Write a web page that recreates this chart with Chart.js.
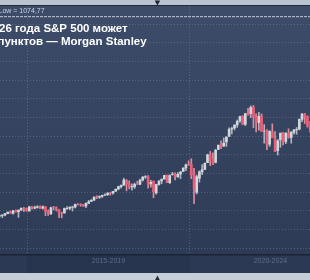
<!DOCTYPE html>
<html>
<head>
<meta charset="utf-8">
<script src="https://cdn.jsdelivr.net/npm/chart.js@4.4.1/dist/chart.umd.min.js"></script>
<style>
  html, body { margin: 0; padding: 0; background: #c5cdd8; overflow: hidden; }
  canvas { display: block; }
</style>
</head>
<body>
<canvas id="myChart" width="310" height="280"></canvas>
<script>
// S&P 500, monthly candles from Jan 2014
const firstYear = 2014;
const opens = [
  1845.9, 1782.7, 1857.7, 1873.9, 1884.4, 1923.9, 1962.3, 1929.8, 2004.1, 1971.4, 2018.2, 2065.8,
  2058.9, 1996.7, 2105.2, 2067.6, 2087.4, 2108.6, 2067.0, 2104.5, 1970.1, 1919.7, 2080.8, 2082.9,
  2038.2, 1936.9, 1937.1, 2056.6, 2067.2, 2093.9, 2099.3, 2173.2, 2171.3, 2164.3, 2128.7, 2200.2,
  2251.6, 2285.6, 2380.1, 2362.3, 2388.5, 2415.6, 2431.4, 2477.1, 2474.4, 2521.2, 2583.2, 2645.1,
  2683.7, 2816.5, 2715.2, 2633.4, 2643.0, 2718.7, 2705.0, 2821.2, 2901.6, 2926.3, 2717.6, 2790.5,
  2477.0, 2702.3, 2798.2, 2848.6, 2952.3, 2751.5, 2971.4, 2980.3, 2909.0, 2983.7, 3050.7, 3143.9,
  3244.7, 3235.7, 2974.3, 2498.1, 2869.1, 3038.8, 3105.9, 3288.3, 3507.4, 3385.9, 3296.2, 3645.9,
  3764.6, 3731.2, 3842.5, 3992.8, 4192.0, 4216.5, 4300.7, 4406.9, 4528.8, 4317.2, 4610.6, 4602.8,
  4778.1, 4519.6, 4363.1, 4540.3, 4130.6, 4149.8, 3781.0, 4112.4, 3936.7, 3609.8, 3901.8, 4087.1,
  3853.3, 4070.1, 3963.3, 4102.2, 4166.8, 4184.0, 4450.5, 4578.8, 4530.6, 4284.5
];
const highs = [
  1850.8, 1867.9, 1884.0, 1897.3, 1924.0, 1968.2, 1991.4, 2005.0, 2019.3, 2018.2, 2075.8, 2093.6,
  2072.4, 2119.6, 2117.5, 2125.9, 2134.7, 2129.9, 2132.8, 2112.7, 2021.0, 2094.3, 2116.5, 2104.3,
  2038.2, 1963.0, 2072.2, 2111.1, 2103.5, 2120.6, 2177.1, 2193.8, 2187.9, 2169.6, 2214.1, 2277.5,
  2301.0, 2371.5, 2401.0, 2398.2, 2418.7, 2453.8, 2484.0, 2490.9, 2519.4, 2583.0, 2657.7, 2695.0,
  2872.9, 2836.0, 2801.9, 2717.5, 2742.2, 2791.5, 2848.0, 2916.5, 2940.9, 2939.9, 2815.2, 2800.2,
  2709.0, 2813.5, 2860.3, 2949.5, 2954.1, 2964.2, 3028.0, 3013.6, 3022.0, 3050.1, 3154.3, 3247.9,
  3337.8, 3393.5, 3136.7, 2954.9, 3068.7, 3233.1, 3280.0, 3514.8, 3588.1, 3549.9, 3646.0, 3760.2,
  3870.9, 3950.4, 3983.9, 4218.8, 4238.0, 4302.4, 4430.0, 4537.4, 4545.9, 4608.1, 4743.8, 4808.9,
  4818.6, 4595.3, 4637.3, 4593.5, 4307.7, 4177.5, 4140.1, 4325.3, 4119.3, 3905.4, 4080.1, 4101.0,
  4094.2, 4195.4, 4110.8, 4170.1, 4231.1, 4458.5, 4607.1, 4607.1, 4541.3, 4393.6
];
const lows = [
  1737.9, 1737.9, 1834.4, 1814.4, 1859.8, 1916.0, 1930.7, 1904.8, 1964.0, 1820.7, 2001.0, 1972.6,
  1988.1, 1980.9, 2039.7, 2048.4, 2067.9, 2056.3, 2044.0, 1867.0, 1871.9, 1893.7, 2019.4, 1993.3,
  1812.3, 1810.1, 1937.1, 2033.8, 2025.9, 1991.7, 2074.0, 2147.6, 2119.1, 2114.7, 2083.8, 2187.4,
  2245.1, 2271.7, 2322.3, 2329.0, 2352.7, 2405.7, 2407.7, 2417.4, 2446.6, 2520.4, 2557.5, 2605.5,
  2682.4, 2532.7, 2585.9, 2553.8, 2594.6, 2698.7, 2699.0, 2796.3, 2864.1, 2603.5, 2631.1, 2346.6,
  2444.0, 2681.8, 2722.3, 2848.6, 2750.5, 2728.8, 2952.2, 2822.1, 2891.9, 2856.0, 3050.7, 3070.3,
  3214.6, 2855.8, 2191.9, 2447.5, 2766.6, 2965.7, 3101.2, 3284.5, 3209.5, 3233.9, 3279.7, 3633.4,
  3662.7, 3725.6, 3723.3, 3992.8, 4056.9, 4164.4, 4233.1, 4367.7, 4305.9, 4278.9, 4560.0, 4495.1,
  4222.6, 4114.7, 4157.9, 4124.3, 3810.3, 3636.9, 3721.6, 3954.5, 3584.1, 3491.6, 3698.2, 3764.5,
  3794.3, 3943.1, 3808.9, 4048.3, 4048.3, 4166.2, 4385.1, 4335.3, 4238.6, 4103.8
];
const closes = [
  1782.6, 1859.5, 1872.3, 1883.9, 1923.6, 1960.2, 1930.7, 2003.4, 1972.3, 2018.1, 2067.6, 2058.9,
  1995.0, 2104.5, 2067.9, 2085.5, 2107.4, 2063.1, 2103.8, 1972.2, 1920.0, 2079.4, 2080.4, 2043.9,
  1940.2, 1932.2, 2059.7, 2065.3, 2097.0, 2098.9, 2173.6, 2171.0, 2168.3, 2126.2, 2199.0, 2238.8,
  2278.9, 2363.6, 2362.7, 2384.2, 2411.8, 2423.4, 2470.3, 2471.7, 2519.4, 2575.3, 2647.6, 2673.6,
  2823.8, 2713.8, 2640.9, 2648.1, 2705.3, 2718.4, 2816.3, 2901.5, 2914.0, 2711.7, 2760.2, 2506.9,
  2704.1, 2784.5, 2834.4, 2945.8, 2752.1, 2941.8, 2980.4, 2926.5, 2976.7, 3037.6, 3141.0, 3230.8,
  3225.5, 2954.2, 2584.6, 2912.4, 3044.3, 3100.3, 3271.1, 3500.3, 3363.0, 3270.0, 3621.6, 3756.1,
  3714.2, 3811.2, 3972.9, 4181.2, 4204.1, 4297.5, 4395.3, 4522.7, 4307.5, 4605.4, 4567.0, 4766.2,
  4515.6, 4373.9, 4530.4, 4131.9, 4132.2, 3785.4, 4130.3, 3955.0, 3585.6, 3872.0, 4080.1, 3839.5,
  4076.6, 3970.2, 4109.3, 4169.5, 4179.8, 4450.4, 4589.0, 4507.7, 4288.1, 4193.8
];

const periodLabels = ['2010-2014', '2015-2019', '2020-2024'];
const periodStartYears = [2010, 2015, 2020];
const gridStep = 500;
const targetLevel = 7200;
const lowText = 'Low = 1074,77';
const titleLines = ['26 года S&P 500 может', 'пунктов — Morgan Stanley'];

// visible window, in months since Jan 2014
const xMin = 2.15;
const xMax = 116.95;
const yMin = 840;
const yMax = 7486;
const boundaryShift = 0.3;

const boundaries = periodStartYears.map(y => (y - firstYear) * 12 + boundaryShift);
const centers = boundaries.map(b => b + 30);

const upColor = '#d3d6dc';
const downColor = '#ee5d77';

const bodyData = opens.map((o, i) => ({ x: i, y: [o, closes[i]] }));
const wickData = opens.map((o, i) => ({ x: i, y: [lows[i], highs[i]] }));
const bodyColors = opens.map((o, i) => closes[i] >= o ? upColor : downColor);
const wickColors = opens.map((o, i) => closes[i] >= o ? '#adb3bd' : '#dc8c9a');

const gridColor = 'rgba(112,126,152,0.55)';

const backdrop = {
  id: 'backdrop',
  beforeDraw(chart) {
    const { ctx, chartArea: a, width, height, scales } = chart;
    ctx.save();
    // axis strip with alternating period bands
    ctx.fillStyle = '#27344e';
    ctx.fillRect(0, a.bottom, width, 19);
    ctx.fillStyle = '#2c3954';
    for (let k = 0; k < boundaries.length; k += 2) {
      const x0 = scales.x.getPixelForValue(boundaries[k]);
      const x1 = scales.x.getPixelForValue(boundaries[k] + 60);
      ctx.fillRect(x0, a.bottom, x1 - x0, 19);
    }
    ctx.fillStyle = '#1b2436';
    ctx.fillRect(0, a.bottom, width, 1.5);
    // bottom scroller
    ctx.fillStyle = '#c5cdd8';
    ctx.fillRect(0, a.bottom + 19, width, height - a.bottom - 19);
    // plot background
    const g = ctx.createLinearGradient(0, a.top, 0, a.bottom);
    g.addColorStop(0, '#3d4c69');
    g.addColorStop(1, '#2d3b56');
    ctx.fillStyle = g;
    ctx.fillRect(0, a.top, width, a.bottom - a.top);
    // top bar
    ctx.fillStyle = '#bac3d0';
    ctx.fillRect(0, 0, width, a.top - 1);
    ctx.fillStyle = '#222b3b';
    ctx.fillRect(0, a.top - 1, width, 1);
    ctx.restore();
  },
  afterDraw(chart) {
    const { ctx } = chart;
    ctx.save();
    ctx.fillStyle = '#ccd3de';
    ctx.font = '7px "Liberation Sans", Arial, sans-serif';
    ctx.textBaseline = 'alphabetic';
    ctx.fillText(lowText, -1.5, 12.5);
    ctx.fillStyle = '#ffffff';
    ctx.font = 'bold 11.5px "Liberation Sans", Arial, sans-serif';
    ctx.fillText(titleLines[0], -1, 31.5);
    ctx.fillText(titleLines[1], -2.5, 44.5);
    ctx.fillStyle = '#1e2636';
    ctx.font = '7px "DejaVu Sans", sans-serif';
    ctx.textAlign = 'center';
    ctx.fillText('▼', 157.5, 4.5);
    ctx.fillText('▲', 157.5, 280);
    ctx.restore();
  }
};

new Chart(document.getElementById('myChart'), {
  type: 'bar',
  data: {
    datasets: [
      {
        label: 'body',
        data: bodyData,
        backgroundColor: bodyColors,
        barThickness: 2,
        grouped: false
      },
      {
        label: 'wick',
        data: wickData,
        backgroundColor: wickColors,
        barThickness: 1,
        grouped: false
      },
      {
        type: 'line',
        label: 'level',
        data: [{ x: xMin, y: targetLevel }, { x: xMax, y: targetLevel }],
        borderColor: '#c3cad6',
        borderWidth: 1,
        borderDash: [3, 1],
        pointRadius: 0
      }
    ]
  },
  options: {
    responsive: false,
    devicePixelRatio: 1,
    animation: false,
    layout: { padding: { top: 6, bottom: 11.6, left: 0, right: 0 } },
    plugins: { legend: { display: false }, tooltip: { enabled: false } },
    scales: {
      x: {
        type: 'linear',
        offset: false,
        bounds: 'data',
        min: xMin,
        max: xMax,
        afterBuildTicks: s => { s.ticks = boundaries.filter(v => v >= xMin && v <= xMax).map(v => ({ value: v })); },
        ticks: { display: false },
        grid: { offset: false, color: gridColor, drawTicks: false, lineWidth: 1 },
        border: { display: false, dash: [1, 2] }
      },
      x2: {
        type: 'linear',
        position: 'bottom',
        offset: false,
        bounds: 'data',
        min: xMin,
        max: xMax,
        afterBuildTicks: s => { s.ticks = centers.filter(v => v >= xMin && v <= xMax).map(v => ({ value: v })); },
        ticks: {
          padding: 3,
          color: '#5f6c87',
          font: { size: 7, family: '"Liberation Sans", Arial, sans-serif' },
          callback: v => periodLabels[centers.indexOf(v)],
          maxRotation: 0
        },
        grid: { display: false, drawTicks: false, offset: false },
        border: { display: false }
      },
      y: {
        min: yMin,
        max: yMax,
        afterBuildTicks: s => {
          const t = [];
          for (let v = Math.ceil(yMin / gridStep) * gridStep; v < yMax; v += gridStep) t.push({ value: v });
          s.ticks = t;
        },
        ticks: { display: false },
        grid: { color: gridColor, drawTicks: false, lineWidth: 1 },
        border: { display: false, dash: [1, 2] }
      }
    }
  },
  plugins: [backdrop]
});
</script>
</body>
</html>
